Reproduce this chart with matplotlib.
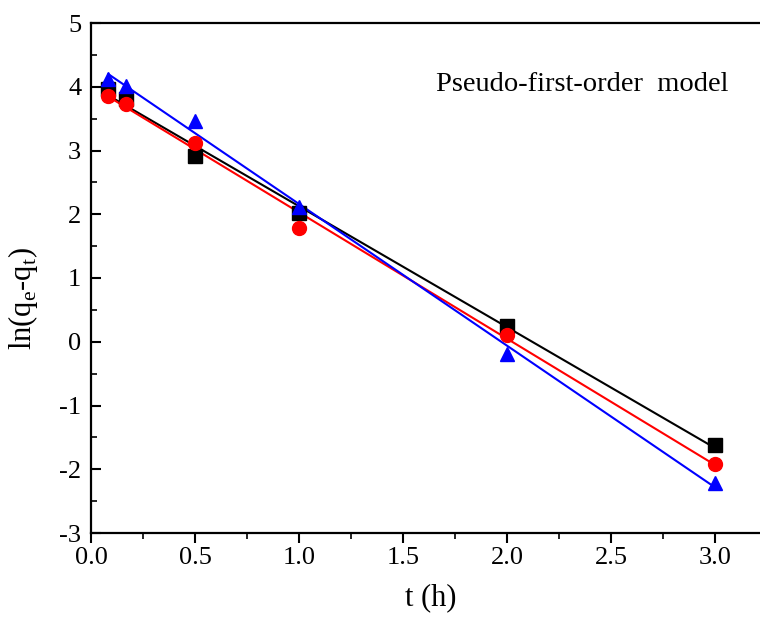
import numpy as np
import matplotlib
matplotlib.use("Agg")
import matplotlib.pyplot as plt
from matplotlib.ticker import MultipleLocator, FormatStrFormatter

plt.rcParams['font.family'] = ['Liberation Serif', 'DejaVu Serif']
plt.rcParams['mathtext.fontset'] = 'custom'
plt.rcParams['mathtext.rm'] = 'Liberation Serif'
plt.rcParams['axes.unicode_minus'] = False

t = [0.083, 0.167, 0.5, 1.0, 2.0, 3.0]
black_vals = [3.97, 3.81, 2.91, 2.02, 0.24, -1.62]
red_vals = [3.86, 3.73, 3.12, 1.78, 0.11, -1.91]
blue_vals = [4.12, 4.01, 3.46, 2.11, -0.19, -2.21]

series = [
    (black_vals, 'black', 's'),
    (red_vals, 'red', 'o'),
    (blue_vals, 'blue', '^'),
]

fig = plt.figure(figsize=(7.6, 6.32), dpi=100)
x0, y0 = 91 / 760, 1 - 533 / 632
x1, y1 = 770 / 760, 1 - 23 / 632
ax = fig.add_axes([x0, y0, x1 - x0, y1 - y0])

tt = np.array(t)
for vals, col, mk in series:
    v = np.array(vals)
    k, b = np.polyfit(tt, v, 1)
    ax.plot([tt.min(), tt.max()], [k * tt.min() + b, k * tt.max() + b],
            color=col, lw=1.5, zorder=2)
    ax.plot(tt, v, linestyle='none', marker=mk, color=col, ms=10, zorder=3)

ax.set_xlim(0, 679 / 208)
ax.set_ylim(-3, 5)
ax.xaxis.set_major_locator(MultipleLocator(0.5))
ax.xaxis.set_minor_locator(MultipleLocator(0.25))
ax.yaxis.set_major_locator(MultipleLocator(1))
ax.yaxis.set_minor_locator(MultipleLocator(0.5))
ax.xaxis.set_major_formatter(FormatStrFormatter('%.1f'))

ax.tick_params(axis='x', which='major', direction='out', length=7, width=1.5, labelsize=19, pad=3)
ax.tick_params(axis='x', which='minor', direction='out', length=4, width=1.2)
ax.tick_params(axis='y', which='major', direction='in', length=7, width=1.5, labelsize=19, pad=7)
ax.tick_params(axis='y', which='minor', direction='in', length=4, width=1.2)
ax.tick_params(top=False, right=False, which='both')
for s in ['left', 'bottom', 'top']:
    ax.spines[s].set_linewidth(1.6)
ax.spines['right'].set_visible(False)

ax.set_xlabel('t (h)', fontsize=22, labelpad=10)
ax.set_ylabel(r'ln(q$_\mathregular{e}$-q$_\mathregular{t}$)', fontsize=22)
ax.yaxis.set_label_coords(-0.075, 0.459)

ax.text(1.66, 4.04, 'Pseudo-first-order  model', fontsize=20.5, va='center', ha='left')

fig.savefig('out.png', dpi=100)
